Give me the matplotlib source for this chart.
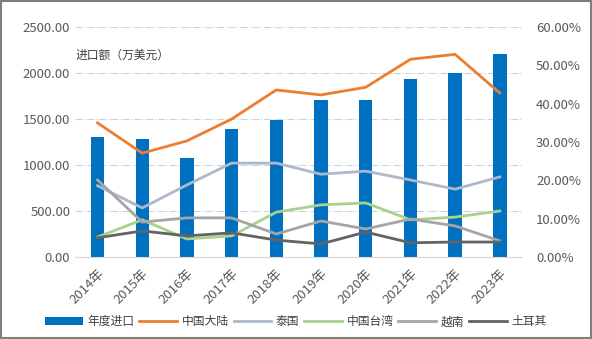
import numpy as np
import matplotlib.pyplot as plt
from matplotlib.patches import Rectangle

plt.rcParams['font.family'] = ['Noto Sans CJK SC', 'DejaVu Sans']

years = ['2014年', '2015年', '2016年', '2017年', '2018年',
         '2019年', '2020年', '2021年', '2022年', '2023年']
imports = [1304, 1283, 1076, 1391, 1489, 1707, 1710, 1935, 2000, 2207]
mainland = [35.0, 27.1, 30.3, 36.0, 43.6, 42.3, 44.3, 51.6, 52.9, 42.8]
thailand = [18.6, 12.8, 18.8, 24.5, 24.5, 21.6, 22.4, 20.1, 17.7, 20.9]
taiwan = [5.2, 9.7, 4.7, 5.5, 11.7, 13.6, 14.1, 9.7, 10.4, 12.0]
vietnam = [20.1, 9.1, 10.2, 10.2, 6.0, 9.4, 7.3, 9.9, 8.1, 4.2]
turkey = [5.0, 6.8, 5.5, 6.3, 4.4, 3.4, 6.5, 3.7, 3.9, 3.9]

x = np.arange(len(years))
tc = '#595959'

fig = plt.figure(figsize=(5.92, 3.39), dpi=100)
ax = fig.add_axes([0.127, 0.242, 0.755, 0.678])
ax2 = ax.twinx()

bars = ax.bar(x, imports, width=0.3, color='#0070C0', label='年度进口', zorder=2)
ax.set_ylim(0, 2500)
ax.set_yticks(np.arange(0, 2501, 500))
ax.set_yticklabels(['%.2f' % v for v in np.arange(0, 2501, 500)])
ax.set_xlim(-0.5, 9.5)
ax.set_xticks(x)
ax.set_xticklabels(years, rotation=45, ha='right', rotation_mode='anchor')
ax.grid(axis='y', color='#C9D3E0', linestyle='-.', linewidth=0.8, zorder=0)
for s in ['top', 'right', 'left']:
    ax.spines[s].set_visible(False)
ax.spines['bottom'].set_color('#D9D9D9')
ax.tick_params(axis='both', length=0, colors=tc, labelsize=9.5)
ax.tick_params(axis='x', pad=7)
ax.text(0.0, 0.86, '进口额（万美元）', transform=ax.transAxes, fontsize=8.5,
        color='#404040')

lw = 2
series = [(mainland, '#ED7D31', '中国大陆'), (thailand, '#ADB9CA', '泰国'),
          (taiwan, '#A9D18E', '中国台湾'), (vietnam, '#A5A5A5', '越南'),
          (turkey, '#636363', '土耳其')]
lines = []
for vals, c, lab in series:
    ln, = ax2.plot(x, vals, color=c, linewidth=lw, label=lab, zorder=3)
    lines.append(ln)
ax2.set_ylim(0, 60)
ax2.set_yticks(np.arange(0, 61, 10))
ax2.set_yticklabels(['%.2f%%' % v for v in np.arange(0, 61, 10)])
for s in ['top', 'right', 'left', 'bottom']:
    ax2.spines[s].set_visible(False)
ax2.tick_params(axis='y', length=0, colors=tc, labelsize=9.5, pad=10)

fig.legend([bars] + lines, ['年度进口'] + [s[2] for s in series],
           loc='lower center', bbox_to_anchor=(0.5, 0.0), ncol=6, frameon=False,
           fontsize=8.5, handlelength=3.2, handletextpad=0.4, columnspacing=0.4,
           labelcolor='#404040')

fig.patches.append(Rectangle((0.002, 0.003), 0.996, 0.994, transform=fig.transFigure,
                             fill=False, edgecolor='#7F7F7F', linewidth=1.5))

fig.savefig('out.png', dpi=100)
